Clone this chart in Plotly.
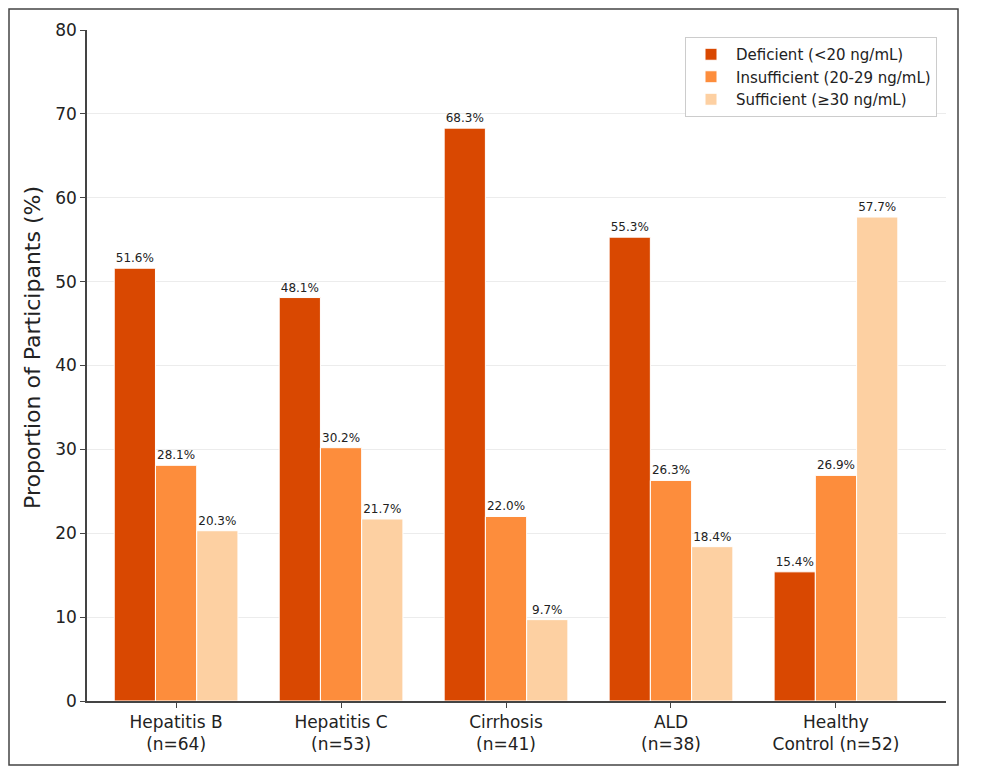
import plotly.graph_objects as go

groups = ["Hepatitis B<br>(n=64)", "Hepatitis C<br>(n=53)", "Cirrhosis<br>(n=41)",
          "ALD<br>(n=38)", "Healthy<br>Control (n=52)"]
deficient = [51.6, 48.1, 68.3, 55.3, 15.4]
insufficient = [28.1, 30.2, 22.0, 26.3, 26.9]
sufficient = [20.3, 21.7, 9.7, 18.4, 57.7]

series = [
    ("Deficient (<20 ng/mL)", deficient, "#d94801"),
    ("Insufficient (20-29 ng/mL)", insufficient, "#fd8d3c"),
    ("Sufficient (≥30 ng/mL)", sufficient, "#fdd0a2"),
]

FONT = "DejaVu Sans"

fig = go.Figure()
for name, vals, color in series:
    fig.add_trace(
        go.Bar(
            x=list(range(len(groups))),
            y=vals,
            name=name,
            marker=dict(color=color, line=dict(color="white", width=1)),
            text=[f"{v:.1f}%" for v in vals],
            textposition="outside",
            textfont=dict(family=FONT, size=12, color="#222"),
            cliponaxis=False,
        )
    )

# page body adds 8px, so offsets are shifted by it
ml, mr, mt, mb = 79, 45, 22, 82
pw = 983 - ml - mr
ph = 775 - mt - mb
x_l, y_b = 87, 701  # plot-area origin in screen pixels

fig.update_layout(
    width=983,
    height=775,
    barmode="group",
    bargap=0.25,
    bargroupgap=0,
    plot_bgcolor="white",
    paper_bgcolor="white",
    font=dict(family=FONT, color="#222"),
    margin=dict(l=ml, r=mr, t=mt, b=mb),
    xaxis=dict(
        tickmode="array",
        tickvals=list(range(len(groups))),
        ticktext=groups,
        range=[-0.54, 4.667],
        showline=True,
        linecolor="#444",
        linewidth=1.5,
        ticks="outside",
        ticklen=5,
        tickcolor="#444",
        tickfont=dict(size=17),
        showgrid=False,
    ),
    yaxis=dict(
        range=[0, 80],
        dtick=10,
        showline=True,
        linecolor="#444",
        linewidth=1.5,
        ticks="outside",
        ticklen=5,
        tickcolor="#444",
        tickfont=dict(size=17),
        gridcolor="#ececec",
        zeroline=False,
    ),
    legend=dict(
        x=(937 - x_l) / pw,
        y=(y_b - 37) / ph,
        xanchor="right",
        yanchor="top",
        bgcolor="white",
        bordercolor="#cccccc",
        borderwidth=1,
        font=dict(size=15),
        tracegroupgap=0,
        itemwidth=40,
    ),
    annotations=[
        dict(
            text="Proportion of Participants (%)",
            xref="paper",
            yref="paper",
            x=(32 - x_l) / pw,
            y=(y_b - 348) / ph,
            textangle=-90,
            showarrow=False,
            font=dict(size=22),
            xanchor="center",
            yanchor="middle",
        )
    ],
    shapes=[
        dict(
            type="rect",
            xref="paper",
            yref="paper",
            x0=(9 - x_l) / pw,
            x1=(958 - x_l) / pw,
            y0=(y_b - 765) / ph,
            y1=(y_b - 9) / ph,
            line=dict(color="#444", width=1.5),
            layer="below",
        )
    ],
)

fig.write_html("out.html")
